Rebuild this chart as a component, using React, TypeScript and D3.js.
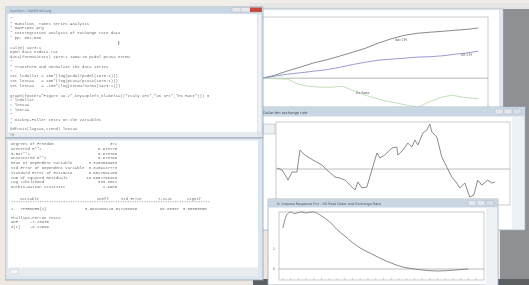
import React from 'react';
import * as d3 from 'd3';

// program editor text
const editorLines = [
  '*',
  '* Hamilton, Times Series Analysis',
  '* HAMP1902.prg',
  '* Cointegration analysis of exchange rate data',
  '* pp. 582-586',
  '',
  'cal(m) 1973:1',
  'open data exdata.rat',
  'data(format=rats) 1973:1 1989:10 pcdol pcusa exrmu',
  '*',
  '* Transform and normalize the data series',
  '*',
  'set lcdollar = 100*(log(pcdol/pcdol(1973:1)))',
  'set lexsaa   = 100*(log(pcusa/pcusa(1973:1)))',
  'set lexraa   = -100*(log(exrmu/exrmu(1973:1)))',
  '',
  'graph(footer="Figure 19.2",key=upleft,klabels=||"Italy CPI","US CPI","Ex Rate"||) 3',
  '# lcdollar',
  '# lexsaa',
  '# lexraa',
  '*',
  '* Dickey-Fuller tests on the variables',
  '*',
  '@dfunit(lags=6,trend) lexsaa',
];

// regression output
const statLabels = [
  'Degrees of Freedom',
  'Centered R**2',
  'R-Bar**2',
  'Uncentered R**2',
  'Mean of Dependent Variable',
  'Std Error of Dependent Variable',
  'Standard Error of Estimate',
  'Sum of Squared Residuals',
  'Log Likelihood',
  'Durbin-Watson Statistic',
];
const statValues = [
  '372', '0.973770', '0.973700', '0.973790', '3.3108093963', '0.3209117773',
  '0.0527561205', '10.9007759486', '533.3867', '1.9985',
];
const coefHeader = ['Variable', 'Coeff', 'Std Error', 'T-Stat', 'Signif'];
const coefRow = ['1.  YPREDDER{1}', '0.993108812', '0.017258880', '88.80307', '0.00000000'];
const ppLabels = ['ADF', 'Z(t)'];
const ppValues = ['-7.20435', '-8.12099'];

// figure 19.2
const cpiYears = [1973, 1974, 1975, 1976, 1977, 1978, 1979, 1980, 1981, 1982, 1983, 1984, 1985, 1986, 1987, 1988, 1989, 1989.75];
const italyCpi = [0, 4.4, 10.8, 16.5, 22.5, 27, 32.4, 38, 44, 51.5, 58, 63, 66, 67.6, 69, 70.6, 72, 74];
const usCpi = [0, 3, 6, 8, 10.3, 12.5, 16, 20, 23.5, 26.5, 28, 29.4, 31, 31.6, 33, 35.3, 37.5, 39.7];
const exYears = [1973, 1975, 1975.8, 1976.6, 1977.6, 1978.4, 1979.2, 1980, 1981, 1982.3, 1983.5, 1984.6, 1985.1, 1985.9, 1986.9, 1987.7, 1988.5, 1989.3, 1989.75];
const exRate = [0, -1.5, -8.8, -11.8, -13.2, -13.2, -11.8, -17.6, -25, -32.4, -36.8, -41.2, -42.6, -35.3, -27.9, -25, -27.9, -29.4, -30];
const seriesKeys = ['Ital CPI', 'US CPI', 'Ex Rate'];

// dollar-yen exchange rate
const fxYears = [1973, 1973.39, 1973.77, 1973.85, 1974.16, 1974.54, 1974.77, 1975.16, 1975.78, 1976.47, 1976.86, 1977.48, 1977.86, 1978.25, 1978.79, 1979.02, 1979.25, 1979.56, 1979.94, 1980.33, 1980.72, 1980.95, 1981.33, 1981.56, 1981.87, 1982.26, 1982.34, 1982.72, 1983.11, 1983.42, 1983.65, 1983.88, 1984.27, 1984.57, 1984.81, 1984.96, 1985.35, 1985.73, 1986.12, 1986.5, 1986.89, 1987.12, 1987.51, 1987.89, 1988.2, 1988.51, 1988.82, 1989.28, 1989.59, 1989.82];
const fxRate = [0.007, -0.007, -0.065, -0.08, -0.022, -0.022, 0.137, 0.101, 0.065, 0.029, -0.007, -0.058, -0.065, -0.08, -0.13, -0.152, -0.094, -0.137, -0.13, -0.007, 0.116, 0.08, 0.101, 0.123, 0.152, 0.159, 0.101, 0.137, 0.188, 0.159, 0.21, 0.174, 0.26, 0.282, 0.325, 0.268, 0.231, 0.087, 0.014, -0.058, -0.101, -0.137, -0.101, -0.202, -0.188, -0.08, -0.116, -0.08, -0.101, -0.094];

// impulse response
const irfSteps = [0, 1, 2, 3, 4, 5, 6, 7, 8, 9, 10, 12, 14, 16, 18, 20, 23, 25, 27, 29, 31, 34, 36, 40, 44, 48];
const irfValue = [4.1, 5.4, 5.7, 5.55, 5.65, 5.7, 5.6, 5.7, 5.7, 5.55, 5.3, 4.75, 3.95, 3.3, 2.65, 2.1, 1.5, 1.1, 0.75, 0.45, 0.2, 0.0, -0.1, -0.2, -0.12, 0.0];
const irfYTicks = [0, 2];

const W = 529;
const H = 285;
const mono = '"Liberation Mono", "DejaVu Sans Mono", monospace';
const sans = '"DejaVu Sans", Arial, sans-serif';
const txt = '#707070';
const titleBar = '#c9d6e3';
const frameLine = '#b5b5b5';

const xTop = d3.scaleLinear().domain([1973, 1990.5]).range([262, 488]);
const yTop = d3.scaleLinear().domain([-60, 90]).range([119, 17]);
const xMid = d3.scaleLinear().domain([1973, 1991]).range([277, 510]);
const yMid = d3.scaleLinear().domain([-0.26, 0.34]).range([205, 122]);
const xBot = d3.scaleLinear().domain([-1, 52]).range([279, 484]);
const yBot = d3.scaleLinear().domain([-1.1, 5.7]).range([280, 212]);

const mkLine = (xs: number[], sx: any, sy: any, curve: any = d3.curveLinear) =>
  d3.line<number>().x((_, i) => sx(xs[i])).y((d) => sy(d)).curve(curve);

const Buttons = ({ x, y }: { x: number; y: number }) => (
  <g>
    {[0, 1, 2].map((i) => (
      <rect key={i} x={x + i * 9} y={y} width={8} height={5} rx={1}
        fill={i === 2 ? '#d9dfe6' : '#e3e8ee'} stroke="#aab4bf" strokeWidth={0.4} />
    ))}
  </g>
);

export default function App() {
  const topLines = [
    { d: mkLine(cpiYears, xTop, yTop)(italyCpi), c: '#7c7c7c' },
    { d: mkLine(cpiYears, xTop, yTop)(usCpi), c: '#8f8fcc' },
    { d: mkLine(exYears, xTop, yTop)(exRate), c: '#b9deb2' },
  ];
  const fxPath = mkLine(fxYears, xMid, yMid)(fxRate);
  const irfPath = mkLine(irfSteps, xBot, yBot, d3.curveMonotoneX)(irfValue);
  const lh = 4.8;

  return (
    <>
      <style>{'body{margin:0}'}</style>
      <svg width={W} height={H} style={{ display: 'block' }}>
        <defs>
          <filter id="soft" x="0" y="0" width="100%" height="100%">
            <feGaussianBlur stdDeviation="0.3" />
          </filter>
          <linearGradient id="bg" x1="0" y1="0" x2="0" y2="1">
            <stop offset="0" stopColor="#f1eeea" />
            <stop offset="1" stopColor="#eee8e0" />
          </linearGradient>
        </defs>
        <rect width={W} height={H} fill="url(#bg)" />
        <g filter="url(#soft)">
          {/* desktop behind */}
          <rect x={250} y={3} width={279} height={7} fill="#e6e6e6" />
          <rect x={500} y={9} width={29} height={276} fill="#8e9194" />
          <rect x={253} y={279} width={276} height={6} fill="#5d6064" />

          {/* graph window: Figure 19.2 */}
          <rect x={240} y={9} width={263} height={130} fill="#fff" stroke="#a9b4bf" strokeWidth={0.8} />
          <rect x={499} y={10} width={3.5} height={128} fill="#dfe7ef" />
          <rect x={240} y={17} width={248} height={110} fill="none" stroke={frameLine} strokeWidth={0.7} />
          <line x1={240} x2={488} y1={yTop(0)} y2={yTop(0)} stroke="#9a9a9a" strokeWidth={0.7} />
          {topLines.map((l, i) => (
            <path key={i} d={l.d || ''} fill="none" stroke={l.c} strokeWidth={0.9} />
          ))}
          <text x={xTop(1983.3)} y={yTop(55)} fontFamily={sans} fontSize={3.4} fill="#555">{seriesKeys[0]}</text>
          <text x={xTop(1988.4)} y={yTop(32)} fontFamily={sans} fontSize={3.4} fill="#555">{seriesKeys[1]}</text>
          <text x={xTop(1980.3)} y={yTop(-23)} fontFamily={sans} fontSize={3.4} fill="#555">{seriesKeys[2]}</text>

          {/* exchange rate window */}
          <rect x={258} y={107} width={267} height={123} fill="#fff" stroke="#9eabb8" strokeWidth={0.8} />
          <rect x={258} y={107} width={267} height={9.5} fill={titleBar} />
          <text x={263} y={113.5} fontFamily={sans} fontSize={3.6} fill="#4d5560">Dollar-Yen exchange rate</text>
          <Buttons x={495} y={109} />
          <rect x={512} y={117} width={12} height={112} fill="#eef2f6" />
          <rect x={263} y={124} width={12} height={10} fill="#eef1f4" stroke="#a0aab4" strokeWidth={0.5} />
          <rect x={276} y={122} width={234} height={83} fill="none" stroke={frameLine} strokeWidth={0.7} />
          <line x1={276} x2={510} y1={yMid(0)} y2={yMid(0)} stroke="#a0a0a0" strokeWidth={0.7} />
          <path d={fxPath || ''} fill="none" stroke="#7d7d7d" strokeWidth={0.9} />

          {/* impulse response window */}
          <rect x={268} y={199} width={230} height={86} fill="#fff" stroke="#9eabb8" strokeWidth={0.8} />
          <rect x={268} y={199} width={230} height={8.5} fill={titleBar} />
          <text x={277} y={205} fontFamily={sans} fontSize={3.4} fill="#4d5560">5: Impulse Response Fcn - US Rate Order and Exchange Rate</text>
          <Buttons x={468} y={200.5} />
          <rect x={486} y={208} width={11} height={77} fill="#eef2f6" />
          <rect x={279} y={212} width={205} height={68} fill="none" stroke={frameLine} strokeWidth={0.7} />
          <line x1={279} x2={484} y1={yBot(0)} y2={yBot(0)} stroke="#a0a0a0" strokeWidth={0.7} />
          {d3.range(0, 52, 2).map((s) => (
            <line key={s} x1={xBot(s)} x2={xBot(s)} y1={280} y2={278} stroke="#a0a0a0" strokeWidth={0.5} />
          ))}
          {irfYTicks.map((t) => (
            <text key={t} x={275} y={yBot(t) + 1.2} textAnchor="end" fontFamily={sans} fontSize={3.4} fill="#666">{t}</text>
          ))}
          <path d={irfPath || ''} fill="none" stroke="#7d7d7d" strokeWidth={0.9} />

          {/* editor window */}
          <rect x={5} y={7} width={258} height={131} fill="#dde6ef" stroke="#93a2b1" strokeWidth={0.8} />
          <rect x={5} y={7} width={258} height={6.5} fill={titleBar} />
          <text x={10} y={11.8} fontFamily={sans} fontSize={3.2} fill="#6a7380">Hamilton - HAMP1902.prg</text>
          <rect x={232} y={7.5} width={9} height={4.5} fill="#e4e9ef" stroke="#aab4bf" strokeWidth={0.4} />
          <rect x={241} y={7.5} width={9} height={4.5} fill="#e4e9ef" stroke="#aab4bf" strokeWidth={0.4} />
          <rect x={250} y={7.5} width={12} height={4.5} fill="#c8493d" />
          <rect x={8} y={14} width={249} height={118} fill="#fff" />
          <rect x={257.5} y={14} width={4} height={118} fill="#eef1f5" stroke="#c4ccd5" strokeWidth={0.3} />
          {editorLines.map((l, i) => (
            <text key={i} x={10} y={19.8 + i * lh} fontFamily={mono} fontSize={4} fill={txt} xmlSpace="preserve">{l}</text>
          ))}
          <text x={118} y={45} fontFamily={sans} fontSize={5.5} fill="#333">I</text>
          <rect x={8} y={132.5} width={249} height={4.5} fill="#e9edf1" />
          <text x={10} y={136} fontFamily={sans} fontSize={3} fill="#888">TM</text>

          {/* output window */}
          <rect x={5} y={138} width={258} height={142} fill="#dde6ef" stroke="#93a2b1" strokeWidth={0.8} />
          <rect x={8} y={140.5} width={250} height={127} fill="#fff" />
          {statLabels.map((l, i) => (
            <g key={i}>
              <text x={11} y={145 + i * lh} fontFamily={mono} fontSize={3.95} fill={txt}>{l}</text>
              <text x={117} y={145 + i * lh} textAnchor="end" fontFamily={mono} fontSize={3.95} fill={txt}>{statValues[i]}</text>
            </g>
          ))}
          {coefHeader.map((h, i) => (
            <text key={h} x={[20, 97, 121, 158, 187][i]} y={199.5} fontFamily={mono} fontSize={3.95} fill={txt}>{h}</text>
          ))}
          <text x={11} y={204} fontFamily={mono} fontSize={3.95} fill={txt} textLength={199}>{'*'.repeat(84)}</text>
          {coefRow.map((c, i) => (
            <text key={i} x={[11, 85, 111, 160, 183][i]} y={209.5} fontFamily={mono} fontSize={3.95} fill={txt} xmlSpace="preserve">{c}</text>
          ))}
          <text x={11} y={218.5} fontFamily={mono} fontSize={3.95} fill={txt}>Phillips-Perron Tests</text>
          {ppLabels.map((l, i) => (
            <g key={l}>
              <text x={11} y={223 + i * lh} fontFamily={mono} fontSize={3.95} fill={txt}>{l}</text>
              <text x={30} y={223 + i * lh} fontFamily={mono} fontSize={3.95} fill={txt}>{ppValues[i]}</text>
            </g>
          ))}
          <rect x={8} y={268} width={250} height={8} fill="#e8ecf0" />
          <rect x={10} y={269.5} width={8} height={4.5} fill="#f6f7f8" stroke="#b6bec6" strokeWidth={0.4} />
        </g>
      </svg>
    </>
  );
}
